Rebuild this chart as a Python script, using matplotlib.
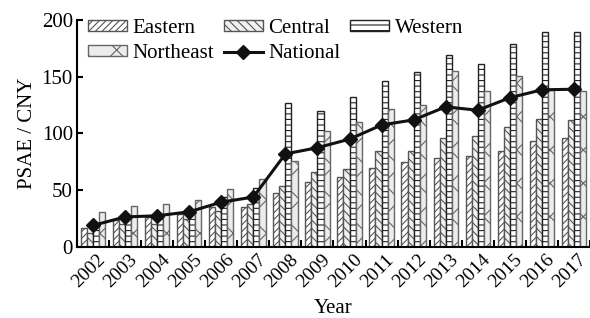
import numpy as np
import matplotlib
matplotlib.use("Agg")
import matplotlib.pyplot as plt
import matplotlib.transforms as mtransforms

plt.rcParams["font.family"] = ["Liberation Serif", "DejaVu Serif"]
plt.rcParams["hatch.linewidth"] = 0.8

# data
years = ["2002", "2003", "2004", "2005", "2006", "2007", "2008", "2009",
         "2010", "2011", "2012", "2013", "2014", "2015", "2016", "2017"]
eastern = [17, 24, 26.5, 29.5, 35, 35.5, 48, 57, 62, 69.5, 74.5, 78, 80.5, 85, 93, 96]
central = [12, 20, 20, 24.5, 31.5, 38, 53.5, 66, 69, 85, 85, 96, 97.5, 106, 112.5, 112]
western = [21, 27, 28, 30, 44, 52, 126.5, 120, 132, 146, 154.5, 169, 161, 178.5, 189, 189.5]
northeast = [30.5, 36, 37.5, 41, 51.5, 60, 76, 102, 110, 122, 125, 155, 137.5, 150.5, 138.5, 137.5]
national = [19, 26.5, 27.5, 31, 39.5, 44, 82, 87.5, 95, 107.5, 112, 123.5, 120.5, 131.5, 138.5, 139]

x = np.arange(len(years))
w = 0.19
fs = 15

fig = plt.figure(figsize=(5.9, 3.18), dpi=100)
ax = fig.add_axes([0.1305, 0.2233, 0.8695, 0.7138])

b1 = ax.bar(x - 1.5 * w, eastern, w, color="white", edgecolor="#555555", hatch="/////", lw=1)
b2 = ax.bar(x - 0.5 * w, central, w, color="#f2f2f2", edgecolor="#555555", hatch="\\\\\\\\", lw=1)
b3 = ax.bar(x + 0.5 * w, western, w, color="white", edgecolor="#222222", hatch="---", lw=1)
b4 = ax.bar(x + 1.5 * w, northeast, w, color="#ececec", edgecolor="#666666", hatch="x", lw=1)
ln, = ax.plot(x, national, color="#111111", lw=2.2, marker="D", ms=7, zorder=5)

ax.set_xlim(-0.5, 15.38)
ax.set_ylim(0, 200)
ax.set_yticks([0, 50, 100, 150, 200])
ax.set_xticks(x)
ax.set_xticklabels(years, rotation=45, ha="right", va="top", rotation_mode="anchor")
ax.set_xticks(np.arange(-0.5, 16, 1), minor=True)
ax.tick_params(axis="x", which="major", length=0, labelsize=14, pad=3)
ax.tick_params(axis="x", which="minor", direction="in", length=5, width=1.5)
ax.tick_params(axis="y", direction="in", length=4, width=1.5, labelsize=fs, pad=3)
shift = mtransforms.ScaledTranslation(4 / 100, 0, fig.dpi_scale_trans)
for lab in ax.get_xticklabels():
    lab.set_transform(lab.get_transform() + shift)

for s in ["top", "right"]:
    ax.spines[s].set_visible(False)
ax.spines["left"].set_linewidth(1.5)
ax.spines["bottom"].set_linewidth(1.5)

ax.set_ylabel("PSAE / CNY", fontsize=fs, labelpad=3)
ax.set_xlabel("Year", fontsize=fs, labelpad=6)

ax.legend([b1, b4, b2, ln, b3], ["Eastern", "Northeast", "Central", "National", "Western"],
          ncol=3, loc="upper left", bbox_to_anchor=(0.021, 1.005), frameon=False,
          fontsize=fs, handlelength=1.9, handleheight=0.4, columnspacing=0.45,
          handletextpad=0.25, labelspacing=0.3, borderaxespad=0, borderpad=0)

fig.savefig("out.png", dpi=100)
